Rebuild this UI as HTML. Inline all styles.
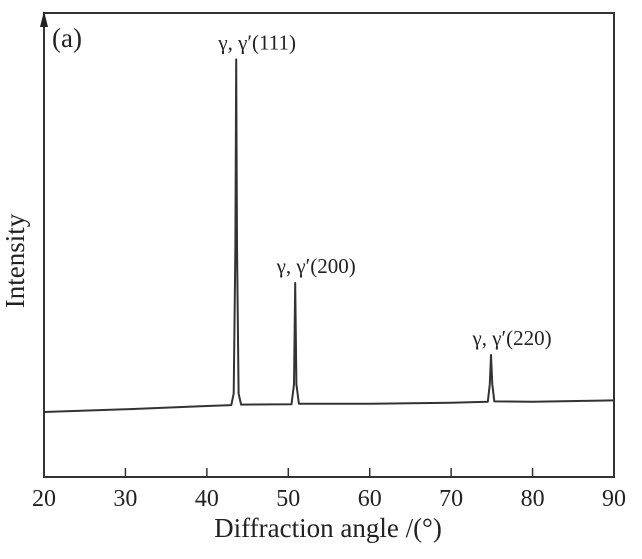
<!DOCTYPE html>
<html><head><meta charset="utf-8"><style>
html,body{margin:0;padding:0;background:#fff;}
svg{display:block;font-family:"Liberation Serif",serif;}
</style></head><body>
<svg id="chart" width="642" height="559" viewBox="0 0 642 559">
<g id="axes"></g>
<g id="plot"></g>
</svg>
<script>
const xTicks=[20,30,40,50,60,70,80,90];
const xVals=[20,30,40,43,43.3,43.5,43.6,43.7,43.9,44.2,50.4,50.7,50.85,51,51.3,60,70,74.5,74.75,74.9,75.05,75.3,80,90];
const yVals=[14,14.6,15.3,15.5,18,50,90,50,18,15.6,15.7,20,41.8,20,15.8,15.8,16,16.2,20,26.3,20,16.3,16.2,16.5];
const peakLabels=["γ, γ′(111)","γ, γ′(200)","γ, γ′(220)"];
const peakX=[43.6,50.85,74.9];
const peakY=[90,41.8,26.3];
const X0=44,X1=614,Y0=477,Y1=13;
const sx=v=>X0+(v-20)/70*(X1-X0);
const sy=v=>Y0-v/100*(Y0-Y1);
const NS="http://www.w3.org/2000/svg";
function mk(t,a,p){const e=document.createElementNS(NS,t);for(const k in a)e.setAttribute(k,a[k]);p.appendChild(e);return e;}
const ax=document.getElementById('axes'),pl=document.getElementById('plot');
let r=mk('rect',{x:X0,y:Y1,width:X1-X0,height:Y0-Y1,fill:'none',stroke:'#333','stroke-width':2},ax);


let ar=mk('path',{d:`M${X0-4},${Y1+14} L${X0},${Y1-2} L${X0+4},${Y1+14} Z`,fill:'#222'},ax);


xTicks.forEach(t=>{
 const x=sx(t);
 if(t>20&&t<90){const l=mk('line',{x1:x,x2:x,y1:Y0,y2:Y0-9,stroke:'#333','stroke-width':1.5},ax);
 
 }
 const tx=mk('text',{x:x,y:506,'font-size':24,'text-anchor':'middle',fill:'#222'},ax);
 tx.textContent=t;
 
 
});
let xt=mk('text',{x:328,y:537,'font-size':27,'text-anchor':'middle',fill:'#222'},ax);
xt.textContent='Diffraction angle /(°)';


let yt=mk('text',{x:0,y:0,'font-size':27,'text-anchor':'middle',fill:'#222',transform:'translate(24,261) rotate(-90)'},ax);
yt.textContent='Intensity';


let pa=mk('text',{x:52,y:47,'font-size':27,fill:'#222'},ax);
pa.textContent='(a)';


let d=xVals.map((v,i)=>(i?'L':'M')+sx(v).toFixed(1)+','+sy(yVals[i]).toFixed(1)).join(' ');
let ln=mk('path',{d:d,fill:'none',stroke:'#333','stroke-width':2,'stroke-linejoin':'round'},pl);


peakLabels.forEach((s,i)=>{
 const t=mk('text',{x:sx(peakX[i])+21,y:sy(peakY[i])-10,'font-size':21,'text-anchor':'middle',fill:'#222'},pl);
 t.textContent=s;
 
 
});
</script>
</body></html>
